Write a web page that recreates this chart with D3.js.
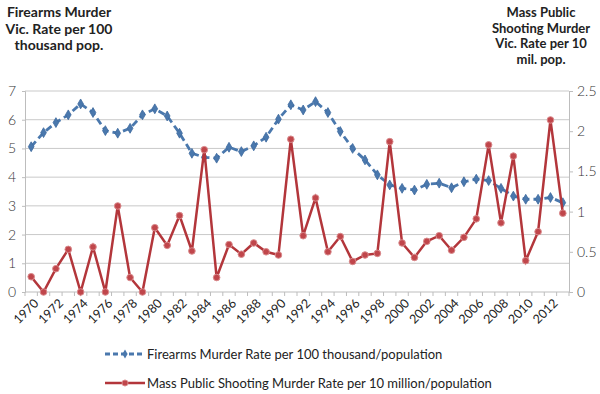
<!DOCTYPE html>
<html><head><meta charset="utf-8">
<script src="https://cdn.jsdelivr.net/npm/d3@7"></script>
<style>body{margin:0;background:#fff}svg{display:block}</style>
</head><body><svg id="c" width="600" height="394"></svg>
<script>
const years = d3.range(1970, 2014);
const firearms = [5.06,5.55,5.9,6.17,6.55,6.25,5.62,5.53,5.7,6.17,6.38,6.13,5.53,4.83,4.69,4.66,5.04,4.89,5.09,5.39,6.02,6.52,6.34,6.63,6.25,5.59,5.0,4.6,4.08,3.73,3.61,3.55,3.75,3.79,3.63,3.84,3.93,3.88,3.61,3.34,3.23,3.23,3.29,3.11];
const massPublic = [0.19,0,0.29,0.53,0,0.56,0,1.07,0.18,0,0.8,0.58,0.95,0.51,1.77,0.18,0.59,0.47,0.61,0.5,0.46,1.9,0.7,1.17,0.5,0.69,0.38,0.46,0.48,1.87,0.61,0.43,0.63,0.7,0.52,0.68,0.91,1.83,0.86,1.69,0.39,0.75,2.14,0.98];
const leftTicks = [0,1,2,3,4,5,6,7];
const rightTicks = [0,0.5,1,1.5,2,2.5];
const xLabels = years.filter(y => (y - 1970) % 2 === 0);
const leftTitle = ["Firearms Murder","Vic. Rate per 100","thousand pop."];
const rightTitle = ["Mass Public","Shooting Murder","Vic. Rate per 10","mil. pop."];
const seriesNames = ["Firearms Murder Rate per 100 thousand/population","Mass Public Shooting Murder Rate per 10 million/population"];

const svg = d3.select("#c");
const L = 25, R = 569, T = 91, B = 292;
const x = d3.scaleBand().domain(years).range([L, R]);
const yL = d3.scaleLinear().domain([0,7]).range([B, T]);
const yR = d3.scaleLinear().domain([0,2.5]).range([B, T]);
const font = "Lato, 'Open Sans', sans-serif";
const blue = "#4a78ad", red = "#b3363b";

// gridlines
svg.append("g").selectAll("line").data(leftTicks.filter(d=>d>0)).join("line")
  .attr("x1", L).attr("x2", R).attr("y1", d=>yL(d)).attr("y2", d=>yL(d))
  .attr("stroke", "#c9c9c9").attr("stroke-width", 1);

// left axis
const gl = svg.append("g").attr("transform", `translate(${L},0)`)
  .call(d3.axisLeft(yL).tickValues(leftTicks).tickSize(3).tickPadding(6).tickFormat(d3.format("d")));
gl.select(".domain").attr("stroke", "#bdbdbd");
gl.selectAll(".tick line").attr("stroke", "#bdbdbd");
gl.selectAll("text").attr("font-family", font).attr("font-weight", 300).attr("font-size", 14).attr("fill", "#333");

// right axis
const gr = svg.append("g").attr("transform", `translate(${R},0)`)
  .call(d3.axisRight(yR).tickValues(rightTicks).tickSize(4).tickPadding(4).tickFormat(d => d));
gr.select(".domain").attr("stroke", "#bdbdbd");
gr.selectAll(".tick line").attr("stroke", "#bdbdbd");
gr.selectAll("text").attr("font-family", font).attr("font-weight", 300).attr("font-size", 14).attr("fill", "#333");

// bottom axis
svg.append("line").attr("x1", L).attr("x2", R).attr("y1", B).attr("y2", B).attr("stroke", "#bdbdbd");
svg.append("g").selectAll("line").data(years.concat([2014])).join("line")
  .attr("x1", d => d===2014 ? R : x(d)).attr("x2", d => d===2014 ? R : x(d))
  .attr("y1", B).attr("y2", B+4).attr("stroke", "#bdbdbd");
svg.append("g").selectAll("text").data(xLabels).join("text")
  .attr("transform", d => `translate(${x(d)+x.bandwidth()/2+5},${B+9}) rotate(-45)`)
  .attr("text-anchor", "end").attr("dy", "0.35em")
  .attr("font-family", font).attr("font-size", 12.5).attr("fill", "#222")
  .text(d => d);

// titles
const tl = svg.append("text").attr("font-family", font).attr("font-weight", "bold").attr("font-size", 14).attr("fill", "#222").attr("text-anchor", "middle");
leftTitle.forEach((t,i) => tl.append("tspan").attr("x", 59).attr("y", 17 + i*16.5).text(t));
const tr = svg.append("text").attr("font-family", font).attr("font-weight", "bold").attr("font-size", 13).attr("fill", "#222").attr("text-anchor", "middle");
rightTitle.forEach((t,i) => tr.append("tspan").attr("x", 541).attr("y", 17 + i*15.5).text(t));

const cx = d => x(d) + x.bandwidth()/2;

// blue series
const lineB = d3.line().x((d,i) => cx(years[i])).y(d => yL(d));
svg.append("path").datum(firearms).attr("d", lineB).attr("fill", "none")
  .attr("stroke", blue).attr("stroke-width", 2.8).attr("stroke-dasharray", "7,4");
svg.append("g").selectAll("path").data(firearms).join("path")
  .attr("d", d3.symbol(d3.symbolDiamond, 28))
  .attr("transform", (d,i) => `translate(${cx(years[i])},${yL(d)})`)
  .attr("fill", blue).attr("stroke", "#3d6a9e").attr("stroke-width", 0.8);

// red series
const lineR = d3.line().x((d,i) => cx(years[i])).y(d => yR(d));
svg.append("path").datum(massPublic).attr("d", lineR).attr("fill", "none")
  .attr("stroke", red).attr("stroke-width", 2.5);
svg.append("g").selectAll("circle").data(massPublic).join("circle")
  .attr("cx", (d,i) => cx(years[i])).attr("cy", d => yR(d)).attr("r", 3.3)
  .attr("fill", "#c0464b").attr("stroke", "#d98a8c").attr("stroke-width", 1);

// legend
const lg = svg.append("g");
lg.append("line").attr("x1", 105).attr("x2", 145).attr("y1", 354).attr("y2", 354)
  .attr("stroke", blue).attr("stroke-width", 2.8).attr("stroke-dasharray", "5,3");
lg.append("path").attr("d", d3.symbol(d3.symbolDiamond, 24)).attr("transform", "translate(125,354)").attr("fill", blue);
lg.append("text").attr("x", 147).attr("y", 354).attr("dy", "0.35em").attr("font-family", font)
  .attr("font-size", 13).attr("fill", "#222").text(seriesNames[0]);
lg.append("line").attr("x1", 105).attr("x2", 145).attr("y1", 383).attr("y2", 383)
  .attr("stroke", red).attr("stroke-width", 2.5);
lg.append("circle").attr("cx", 125).attr("cy", 383).attr("r", 3).attr("fill", "#c0464b").attr("stroke", "#d98a8c");
lg.append("text").attr("x", 147).attr("y", 383).attr("dy", "0.35em").attr("font-family", font)
  .attr("font-size", 13).attr("fill", "#222").text(seriesNames[1]);
</script></body></html>
